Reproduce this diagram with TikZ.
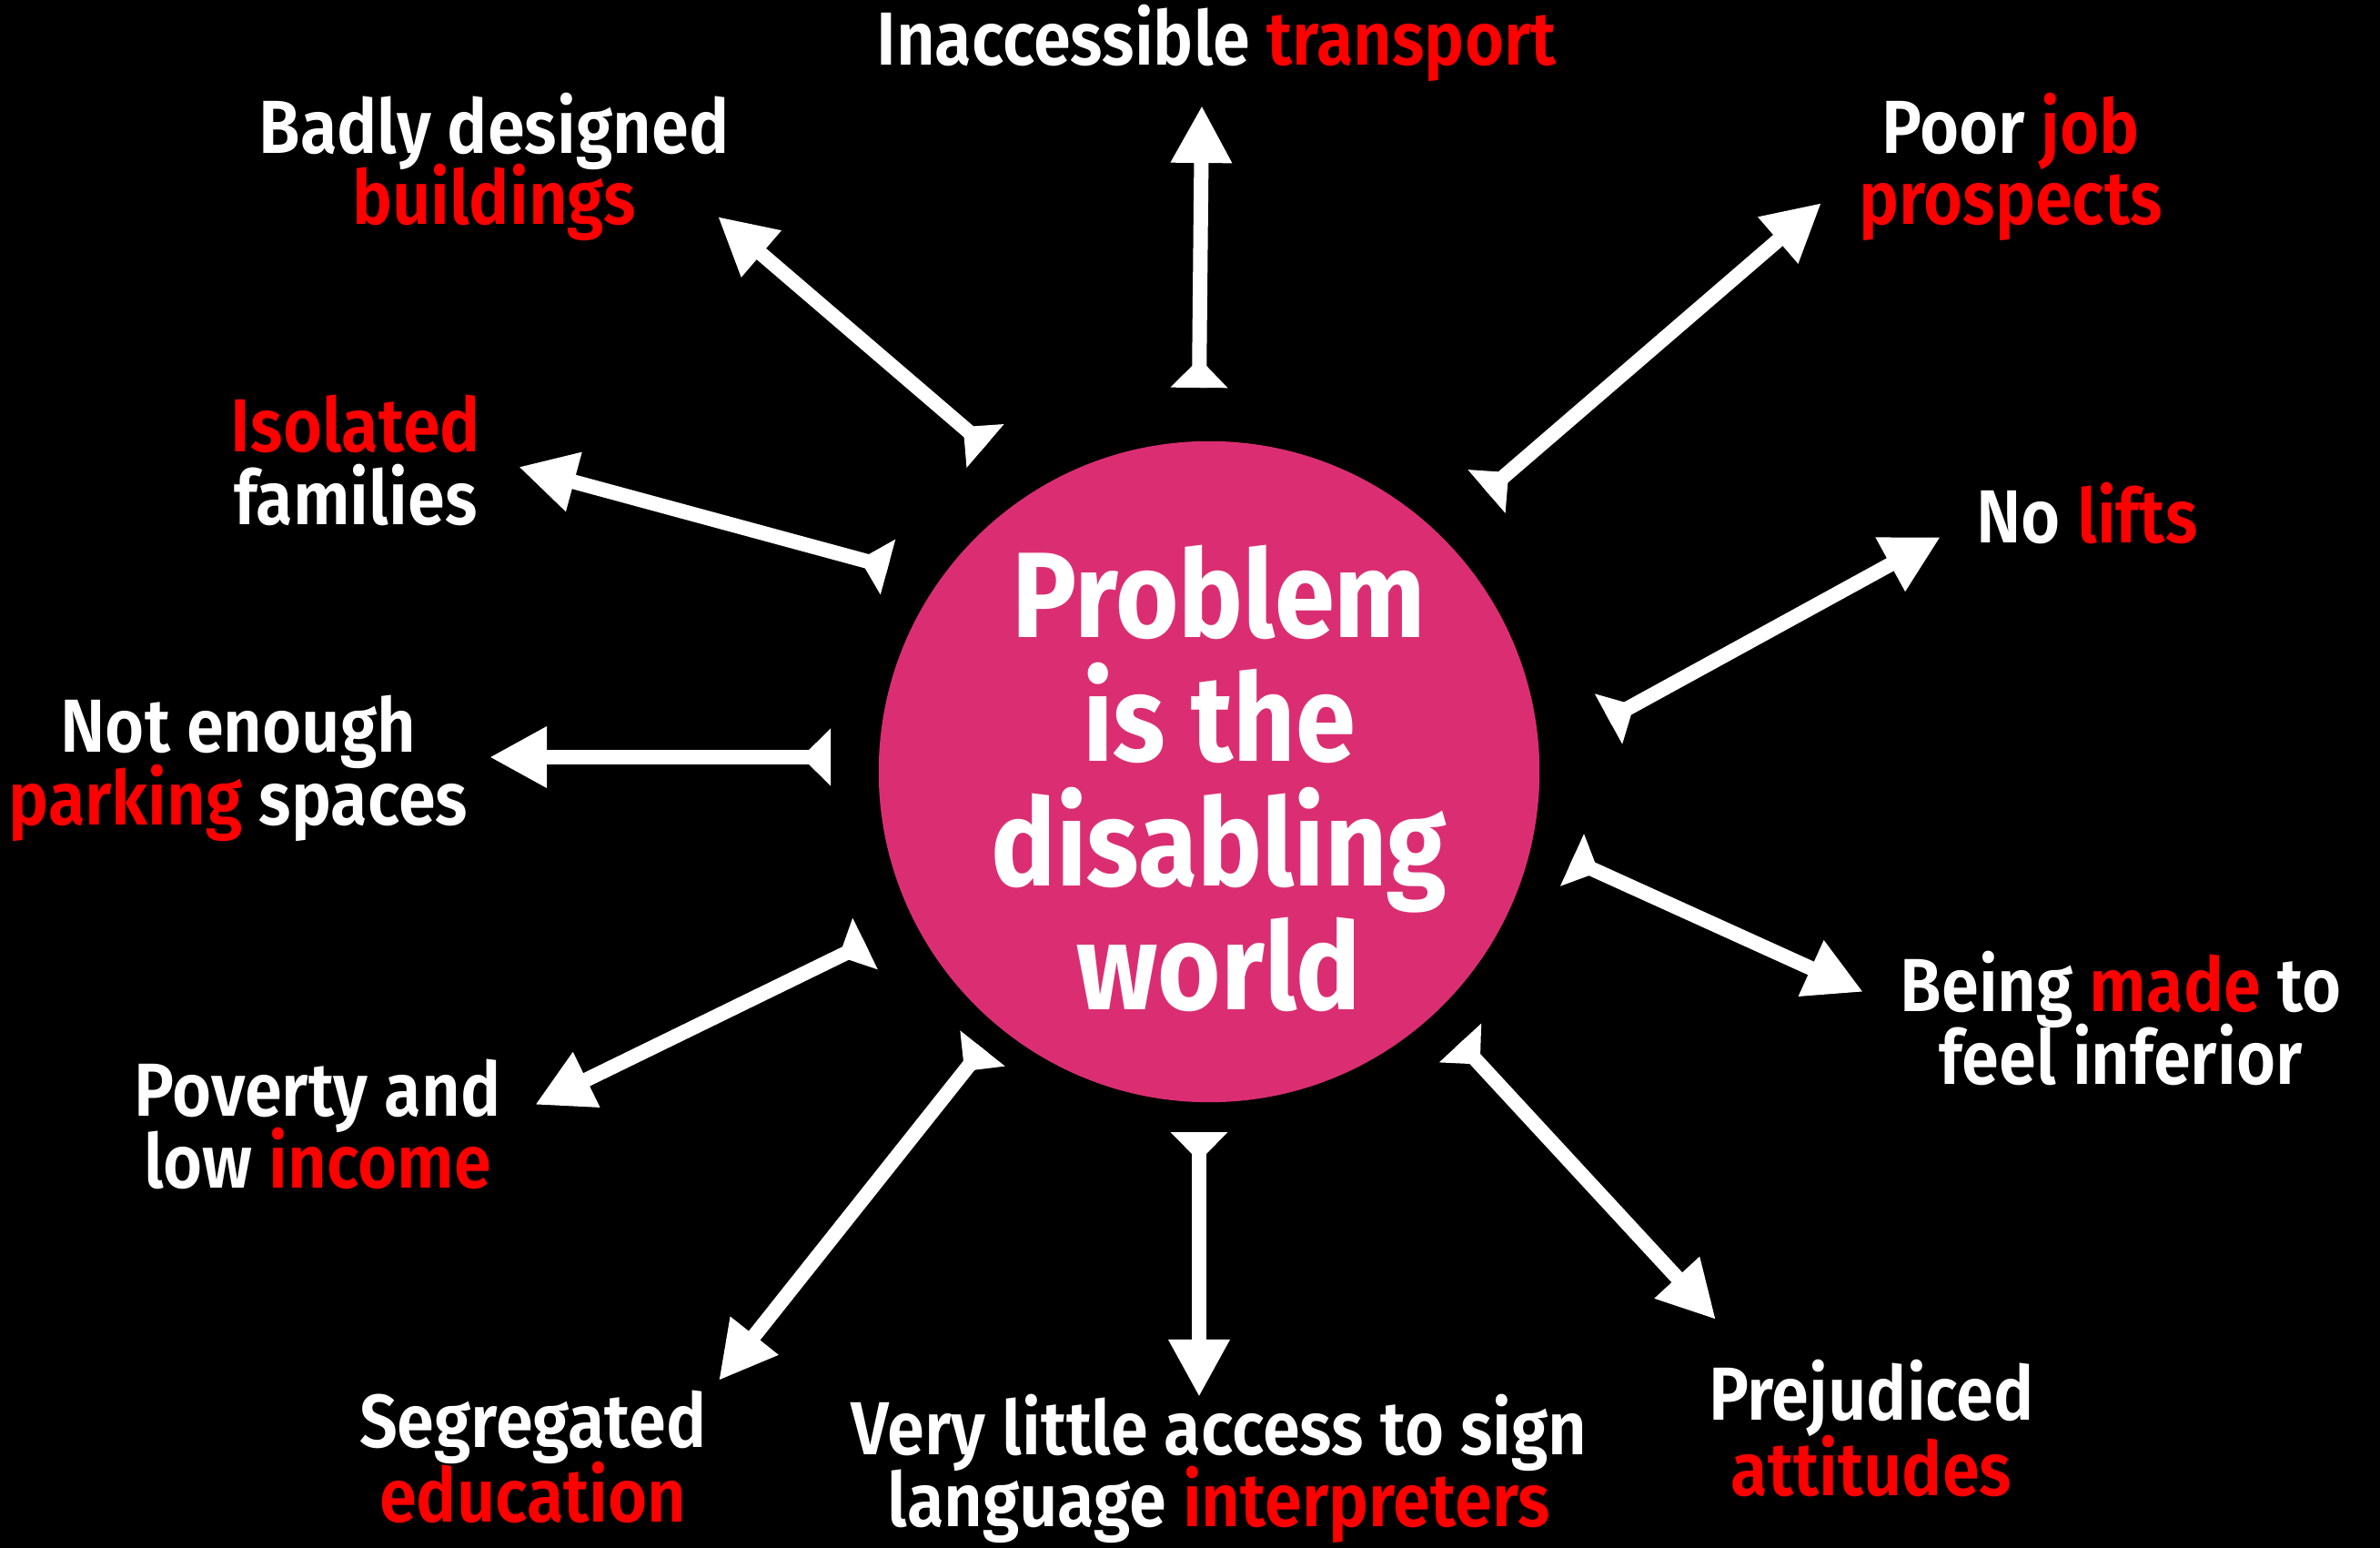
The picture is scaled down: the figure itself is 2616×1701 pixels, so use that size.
\documentclass[tikz,border=0pt]{standalone}
\usepackage{fontspec}
\usetikzlibrary{arrows.meta,calc}
\newfontfamily\labfont{Fira Sans SemiBold}[FakeStretch=0.895]
\newfontfamily\ctrfont{Fira Sans Bold}[FakeStretch=0.89]
\definecolor{disk}{RGB}{219,46,114}
\definecolor{hot}{RGB}{255,0,0}
\tikzset{
  lab/.style={text=white, font=\labfont\fontsize{23.5}{24}\selectfont, anchor=base, inner sep=0pt},
  ctr/.style={text=white, font=\ctrfont\fontsize{38}{40}\selectfont, anchor=base, inner sep=0pt},
  conn/.style={draw=white, line width=0.16cm, -{Triangle[length=0.63cm,width=0.63cm]}},
}
\newcommand\tailtip[2]{\fill[white] ($(#1)!0.315cm!90:(#2)$) -- ($(#1)!0.32cm!(#2)$) -- ($(#1)!0.315cm!-90:(#2)$) -- cycle;}
\begin{document}
\begin{tikzpicture}[x=0.01cm,y=-0.01cm]
\fill[black] (0,0) rectangle (2616,1701);
\useasboundingbox (0,0) rectangle (2616,1701);
% hub
\node[circle, fill=disk, minimum size=7.26cm, inner sep=0pt] (hub) at (1329,848) {};
\node[ctr] (c1) at (1340,701) {Problem};
\node[ctr] (c2) at (1340,837) {is the};
\node[ctr] (c3) at (1340,973) {disabling};
\node[ctr] (c4) at (1340,1109) {world};
% arrow ends
\coordinate (t1) at (1318,426);  \coordinate (h1) at (1321,116);
\coordinate (t2) at (1083,490);  \coordinate (h2) at (789,238);
\coordinate (t3) at (1634,540);  \coordinate (h3) at (2002,223);
\coordinate (t4) at (1768,790);  \coordinate (h4) at (2133,590);
\coordinate (t5) at (976,623);   \coordinate (h5) at (570,513);
\coordinate (t6) at (913,832);   \coordinate (h6) at (538,832);
\coordinate (t7) at (951,1037);  \coordinate (h7) at (588,1214);
\coordinate (t8) at (1080,1152); \coordinate (h8) at (790,1517);
\coordinate (t9) at (1318,1244); \coordinate (h9) at (1318,1535);
\coordinate (t10) at (1605,1146); \coordinate (h10) at (1886,1450);
\coordinate (t11) at (1728,945); \coordinate (h11) at (2048,1090);
\foreach \i in {1,...,11}{
  \draw[conn] (t\i) -- (h\i);
  \tailtip{t\i}{h\i}
}
% labels
\node[lab] (tr) at (1337,72) {Inaccessible \textcolor{hot}{transport}};
\node[lab] (bd1) at (543,169) {Badly designed};
\node[lab] (bd2) at (543,247) {\textcolor{hot}{buildings}};
\node[lab] (jb1) at (2210,169) {Poor \textcolor{hot}{job}};
\node[lab] (jb2) at (2210,247) {\textcolor{hot}{prospects}};
\node[lab] (is1) at (391,497) {\textcolor{hot}{Isolated}};
\node[lab] (is2) at (391,577) {families};
\node[lab] (lf) at (2294,597) {No \textcolor{hot}{lifts}};
\node[lab] (pk1) at (262,826) {Not enough};
\node[lab] (pk2) at (262,906) {\textcolor{hot}{parking} spaces};
\node[lab] (bm1) at (2331,1111) {Being \textcolor{hot}{made} to};
\node[lab] (bm2) at (2331,1191) {feel inferior};
\node[lab] (pv1) at (349,1226) {Poverty and};
\node[lab] (pv2) at (349,1305) {low \textcolor{hot}{income}};
\node[lab] (sg1) at (586,1590) {Segregated};
\node[lab] (sg2) at (586,1672) {\textcolor{hot}{education}};
\node[lab] (si1) at (1340,1598) {Very little access to sign};
\node[lab] (si2) at (1340,1677) {language \textcolor{hot}{interpreters}};
\node[lab] (pj1) at (2057,1560) {Prejudiced};
\node[lab] (pj2) at (2057,1643) {\textcolor{hot}{attitudes}};
\end{tikzpicture}
\end{document}
